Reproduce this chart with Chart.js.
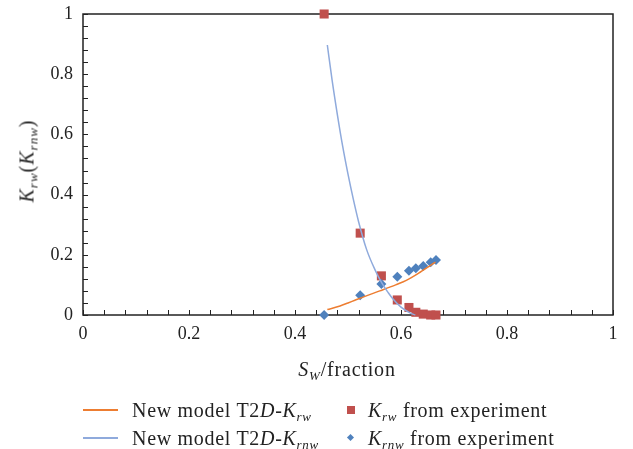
<!DOCTYPE html>
<html>
<head>
<meta charset="utf-8">
<script src="https://cdn.jsdelivr.net/npm/chart.js@4.4.1/dist/chart.umd.min.js"></script>
<style>
  html, body { margin: 0; padding: 0; background: #fff; }
  #wrap { position: relative; width: 633px; height: 449px; font-family: "Liberation Serif", "DejaVu Serif", serif; color: #222; }
  #c { position: absolute; left: 0; top: 0; }
  .ytitle { position: absolute; left: 27px; top: 161px; transform: translate(-50%, -50%) rotate(-90deg); white-space: nowrap; font-size: 20px; letter-spacing: 1px; }
  .xtitle { position: absolute; left: 347px; top: 369px; transform: translate(-50%, -50%); white-space: nowrap; font-size: 20px; letter-spacing: 0.8px; }
  sub { font-size: 13px; vertical-align: -4px; line-height: 0; }
  .leg { position: absolute; font-size: 20px; letter-spacing: 0.7px; white-space: nowrap; line-height: 1; }
  .lline { position: absolute; height: 1.5px; width: 35px; }
  .sq { position: absolute; width: 8px; height: 8px; background: #C0504D; }
  .dm { position: absolute; width: 5px; height: 5px; background: #4F81BD; transform: rotate(45deg); }
</style>
</head>
<body>
<div id="wrap">
  <canvas id="c" width="633" height="449"></canvas>
  <div class="ytitle"><i>K<sub>rw</sub></i>(<i>K<sub>rnw</sub></i>)</div>
  <div class="xtitle"><i>S<sub>W</sub></i>/fraction</div>

  <div class="lline" style="left:83px; top:409px; background:#ED7D31;"></div>
  <div class="leg" style="left:132px; top:400px;">New model T2<i>D</i>-<i>K<sub>rw</sub></i></div>
  <div class="lline" style="left:83px; top:437px; background:#8FAADC;"></div>
  <div class="leg" style="left:132px; top:428px;">New model T2<i>D</i>-<i>K<sub>rnw</sub></i></div>

  <div class="sq" style="left:347px; top:406px;"></div>
  <div class="leg" style="left:368px; top:400px;"><i>K<sub>rw</sub></i> from experiment</div>
  <div class="dm" style="left:348px; top:435px;"></div>
  <div class="leg" style="left:368px; top:428px;"><i>K<sub>rnw</sub></i> from experiment</div>
</div>
<script>
// Experimental data
const swExp   = [0.455, 0.523, 0.563, 0.593, 0.615, 0.628, 0.642, 0.656, 0.666];
const krwExp  = [1.0,   0.272, 0.130, 0.050, 0.025, 0.009, 0.003, 0.000, 0.000];
const krnwExp = [0.000, 0.066, 0.103, 0.127, 0.147, 0.155, 0.163, 0.175, 0.183];

// Model curves
const krwModelSw   = [0.461, 0.485, 0.500, 0.513, 0.532, 0.560, 0.590, 0.610, 0.636, 0.655, 0.665];
const krwModelVal  = [0.018, 0.030, 0.040, 0.049, 0.062, 0.080, 0.100, 0.115, 0.142, 0.164, 0.176];
const krnwModelSw  = [0.461, 0.470, 0.480, 0.490, 0.500, 0.510, 0.520, 0.535, 0.551, 0.564, 0.576, 0.585, 0.600, 0.617, 0.627];
const krnwModelVal = [0.897, 0.780, 0.665, 0.560, 0.468, 0.385, 0.310, 0.218, 0.150, 0.106, 0.074, 0.053, 0.026, 0.007, 0.000];

const xTickLabels = ["0", "0.2", "0.4", "0.6", "0.8", "1"];
const yTickLabels = ["0", "0.2", "0.4", "0.6", "0.8", "1"];

function pts(xs, ys) { return xs.map((x, i) => ({ x: x, y: ys[i] })); }

const framePlugin = {
  id: 'frame',
  beforeDatasetsDraw(chart) {
    const ctx = chart.ctx, a = chart.chartArea;
    const xs = chart.scales.x, ys = chart.scales.y;
    ctx.save();
    ctx.strokeStyle = '#222';
    ctx.lineWidth = 1.5;
    ctx.strokeRect(a.left, a.top, a.right - a.left, a.bottom - a.top);
    ctx.lineWidth = 1;
    ctx.beginPath();
    for (let i = 0; i <= 25; i++) {
      const v = i * 0.04;
      const px = Math.round(xs.getPixelForValue(v)) + 0.5;
      ctx.moveTo(px, a.bottom);
      ctx.lineTo(px, a.bottom - 5);
      const py = Math.round(ys.getPixelForValue(v)) + 0.5;
      ctx.moveTo(a.left, py);
      ctx.lineTo(a.left + 5, py);
    }
    ctx.stroke();
    ctx.restore();
  }
};

const tickFont = { family: '"Liberation Serif", "DejaVu Serif", serif', size: 18 };

new Chart(document.getElementById('c'), {
  type: 'scatter',
  data: {
    datasets: [
      { label: 'Krnw model', data: pts(krnwModelSw, krnwModelVal), showLine: true, borderColor: '#8FAADC', borderWidth: 1.5, pointRadius: 0, cubicInterpolationMode: 'monotone', clip: false },
      { label: 'Krw model', data: pts(krwModelSw, krwModelVal), showLine: true, borderColor: '#ED7D31', borderWidth: 1.5, pointRadius: 0, cubicInterpolationMode: 'monotone', clip: false },
      { label: 'Krnw exp', data: pts(swExp, krnwExp), pointStyle: 'rectRot', pointRadius: 5, backgroundColor: '#4F81BD', borderColor: '#4F81BD', borderWidth: 0, clip: false },
      { label: 'Krw exp', data: pts(swExp, krwExp), pointStyle: 'rect', pointRadius: 6.4, backgroundColor: '#C0504D', borderColor: '#C0504D', borderWidth: 0, clip: false }
    ]
  },
  options: {
    responsive: false,
    animation: false,
    layout: { padding: { left: 0, right: 20, top: 14, bottom: 0 } },
    plugins: { legend: { display: false }, tooltip: { enabled: false } },
    scales: {
      x: {
        type: 'linear', min: 0, max: 1,
        grid: { display: false, drawTicks: false },
        border: { display: false },
        ticks: { stepSize: 0.2, padding: 8, color: '#222', font: tickFont, maxRotation: 0,
                 callback: (v, i) => xTickLabels[i] },
        afterFit: s => { s.height = 134; s.paddingLeft = 0; s.paddingRight = 0; }
      },
      y: {
        type: 'linear', min: 0, max: 1,
        grid: { display: false, drawTicks: false },
        border: { display: false },
        ticks: { stepSize: 0.2, padding: 10, color: '#222', font: tickFont,
                 callback: (v, i) => yTickLabels[i] },
        afterFit: s => { s.width = 83; s.paddingTop = 0; s.paddingBottom = 0; }
      }
    }
  },
  plugins: [framePlugin]
});
</script>
</body>
</html>
